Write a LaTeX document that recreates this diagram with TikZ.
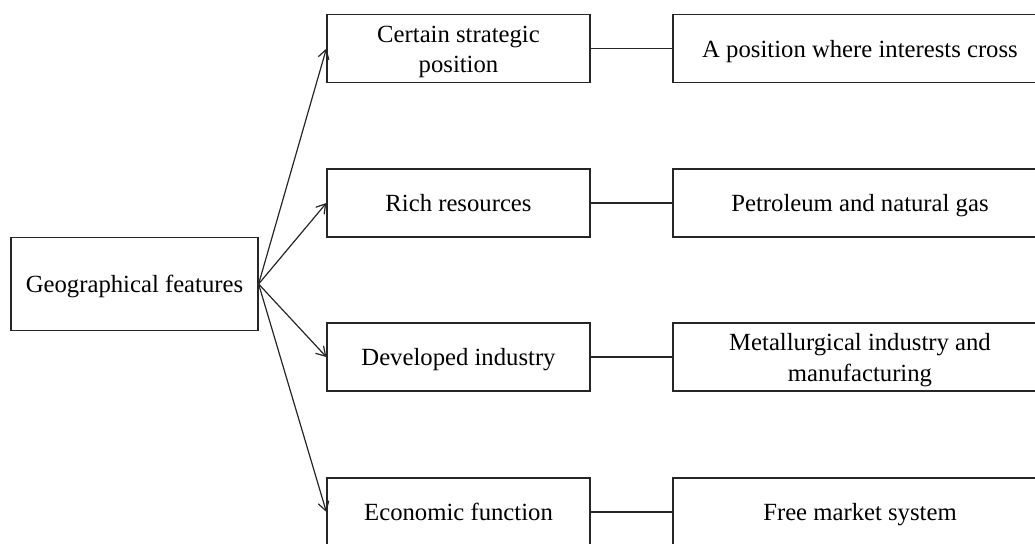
\documentclass[tikz,border=0pt]{standalone}
\usepackage{fontspec}
\setmainfont{Liberation Serif}
\usetikzlibrary{arrows.meta}
\begin{document}
\begin{tikzpicture}[x=1pt,y=-1pt,
  box/.style={draw=black!85, line width=1.2pt, inner sep=0pt, align=center,
    font=\fontsize{24.7}{30.5}\selectfont, text height=23pt, text depth=5.6pt},
  two/.style={text height=54pt, text depth=6pt},
  midbox/.style={box, minimum width=263pt, minimum height=68pt},
  rightbox/.style={box, minimum width=374pt, minimum height=68pt},
  leftbox/.style={box, minimum width=247pt, minimum height=93pt},
  arr/.style={draw=black!85, line width=1.2pt, -{Straight Barb[length=9pt,width=11pt,line width=1.2pt]}},
  link/.style={draw=black!85, line width=1.2pt}]
\useasboundingbox (0,0) rectangle (1035,543);
\clip (0,0) rectangle (1035,543);
\node[leftbox] (g) at (134.5,284) {Geographical features};
\node[midbox, two] (m1) at (458.5,48.5) {Certain strategic\\position};
\node[midbox] (m2) at (458.5,203) {Rich resources};
\node[midbox] (m3) at (458.5,357) {Developed industry};
\node[midbox] (m4) at (458.5,512) {Economic function};
\node[rightbox] (r1) at (860,48.5) {A position where interests cross};
\node[rightbox] (r2) at (860,203) {Petroleum and natural gas};
\node[rightbox, two] (r3) at (860,357) {Metallurgical industry and\\manufacturing};
\node[rightbox] (r4) at (860,512) {Free market system};
\foreach \i in {1,2,3,4}{
  \draw[arr] (g.east) -- (m\i.west);
  \draw[link] (m\i.east) -- (r\i.west);
}
\end{tikzpicture}
\end{document}
